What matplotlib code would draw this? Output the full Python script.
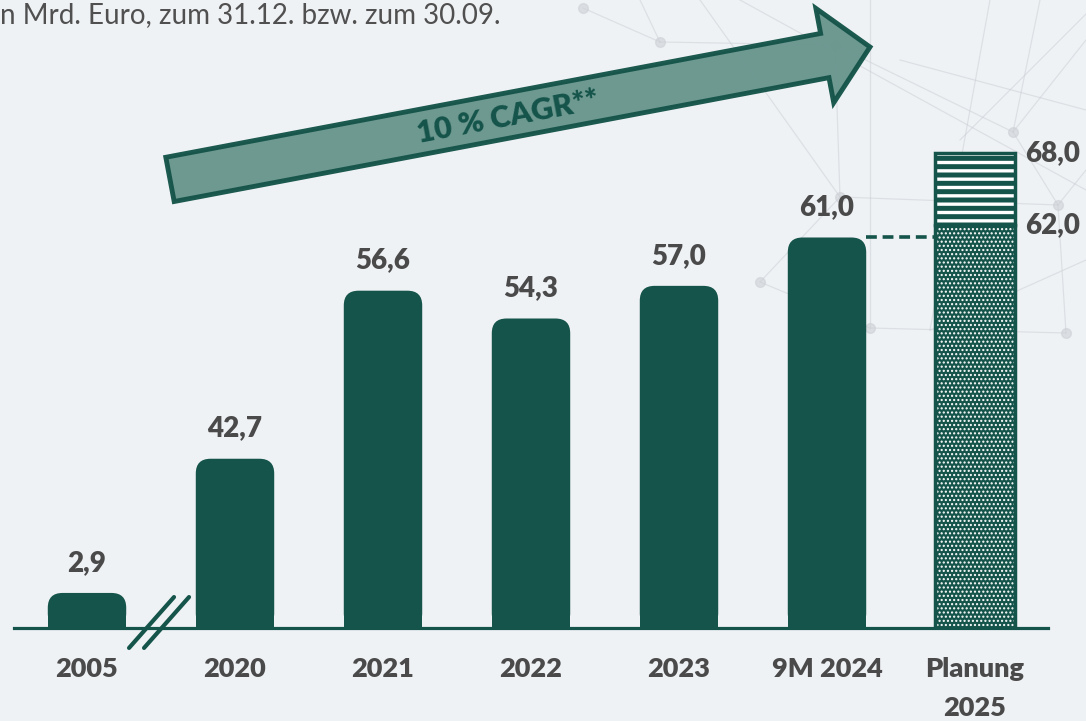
import matplotlib.pyplot as plt
from matplotlib.patches import FancyBboxPatch, FancyArrow, Rectangle

# Kreditvolumen in Mrd. Euro
categories = ['2005', '2020', '2021', '2022', '2023', '9M 2024', 'Planung\n2025']
values = [2.9, 42.7, 56.6, 54.3, 57.0, 61.0]
plan_low = 62.0
plan_high = 68.0
subtitle = 'n Mrd. Euro, zum 31.12. bzw. zum 30.09.'
cagr_text = '10 % CAGR**'

GREEN = '#15544A'
ARROW_FILL = '#6A968E'
GREY = '#4A4A4A'
BG = '#EFF2F5'
BREAK = 28.7  # bars after the axis break start at this value
WEIGHT = 'heavy'

W, H = 1086, 721
PX_X = 148.0   # pixels per category
PX_Y = 12.09   # pixels per Mrd. Euro
BASE_PX = 93.0  # baseline above the figure bottom

plt.rcParams['font.family'] = ['Lato', 'DejaVu Sans']


def fmt(v):
    return ('%.1f' % v).replace('.', ',')


def shown(i, v):
    # the 2005 bar sits before the axis break and is drawn from zero
    return v if i == 0 else v - BREAK


fig = plt.figure(figsize=(W / 100, H / 100), dpi=100, facecolor=BG)

# background layer in pixel coordinates (network pattern, arrow, subtitle)
bg = fig.add_axes([0, 0, 1, 1], zorder=0)
bg.set_xlim(0, W)
bg.set_ylim(H, 0)
bg.axis('off')

net = [((583, 8), (660, 42)), ((660, 42), (835, 45)), ((640, 0), (660, 42)),
       ((700, 0), (840, 197)), ((835, 45), (840, 197)), ((835, 45), (1013, 132)),
       ((870, 0), (870, 328)), ((990, 0), (930, 330)), ((1013, 132), (1058, 205)),
       ((1013, 132), (1086, 40)), ((840, 197), (1058, 205)), ((760, 282), (840, 197)),
       ((760, 282), (870, 328)), ((870, 328), (1066, 333)), ((1058, 205), (1066, 333)),
       ((1086, 170), (1058, 205)), ((900, 60), (1086, 110)), ((1040, 0), (1013, 132)),
       ((1100, 0), (960, 140)), ((1086, 260), (930, 330)), ((740, 0), (1086, 190))]
for p, q in net:
    bg.plot([p[0], q[0]], [p[1], q[1]], color='#CDD1D6', lw=0.9, alpha=0.55, zorder=1)
for n in [(583, 8), (660, 42), (835, 45), (840, 197), (1013, 132), (1058, 205),
          (760, 282), (870, 328), (1066, 333)]:
    bg.plot(*n, 'o', color='#CDD1D6', ms=7, alpha=0.6, zorder=1)

bg.text(0, 2, subtitle, fontsize=20, color='#505050', ha='left', va='top')

arrow = FancyArrow(170, 179.4, 700, -132.4, width=45, head_width=96, head_length=46,
                   length_includes_head=True, fc=ARROW_FILL, ec=GREEN, lw=3.5,
                   alpha=0.97, zorder=3)
bg.add_patch(arrow)
bg.text(508, 117, cagr_text, fontsize=22, fontweight=WEIGHT, color=GREEN,
        rotation=10.7, rotation_mode='anchor', ha='center', va='center', zorder=4)

# chart layer
ax = fig.add_axes([0, BASE_PX / H, 1, 1 - BASE_PX / H], zorder=1)
ax.patch.set_alpha(0)
x_left = -87 / PX_X
ax.set_xlim(x_left, x_left + W / PX_X)
ax.set_ylim(0, (H - BASE_PX) / PX_Y)
for s in ['top', 'left', 'right']:
    ax.spines[s].set_visible(False)
ax.spines['bottom'].set_color(GREEN)
ax.spines['bottom'].set_linewidth(2.3)
ax.spines['bottom'].set_bounds(x_left + 14 / PX_X, x_left + 1048 / PX_X)
ax.set_yticks([])
ax.set_xticks(range(len(categories)))
ax.set_xticklabels(categories, fontsize=19.5, fontweight=WEIGHT, color=GREY,
                   linespacing=1.75)
ax.tick_params(axis='x', length=0, pad=21)

bar_w = 0.53
r = 0.1
aspect = PX_X / PX_Y
heights = [shown(i, v) for i, v in enumerate(values)]
ax.bar(range(len(values)), [h - r * aspect for h in heights], width=bar_w,
       color=GREEN, zorder=2)
for i, h in enumerate(heights):
    rr = r if h > 2 * r * aspect else 0.08
    ax.add_patch(FancyBboxPatch((i - bar_w / 2, 0), bar_w, h,
                                boxstyle='round,pad=0,rounding_size=%g' % rr,
                                mutation_aspect=aspect, fc=GREEN, ec='none', zorder=2))
    ax.annotate(fmt(values[i]), (i, h), xytext=(0, 16), textcoords='offset points',
                ha='center', va='baseline', fontsize=20, fontweight=WEIGHT, color=GREY)

# planning bar
ip = len(values)
pw = 0.54
low = shown(ip, plan_low)
high = shown(ip, plan_high)
p1 = Rectangle((ip - pw / 2, 0), pw, low, fc=GREEN, ec='white', lw=0, hatch='....', zorder=2)
p2 = Rectangle((ip - pw / 2, low), pw, high - low, fc=GREEN, ec='white', lw=0, hatch='--', zorder=2)
for p, hl in ((p1, 1.0), (p2, 2.4)):
    if hasattr(p, 'set_hatch_linewidth'):
        p.set_hatch_linewidth(hl)
    ax.add_patch(p)
ax.add_patch(Rectangle((ip - pw / 2, 0), pw, high, fc='none', ec=GREEN, lw=2.5, zorder=3))
ax.plot([ip - pw / 2, ip + pw / 2], [low, low], color=GREEN, lw=2.5, zorder=3)
for v, h in [(plan_high, high), (plan_low, low)]:
    ax.annotate(fmt(v), (ip + pw / 2, h), xytext=(7, 0), textcoords='offset points',
                ha='left', va='center', fontsize=20, fontweight=WEIGHT, color=GREY)

# dashed link from 9M 2024 to the plan
ax.plot([ip - 1 + bar_w / 2, ip - pw / 2], [heights[-1], heights[-1]], color=GREEN,
        lw=2.6, ls=(0, (3, 1.6)), zorder=2)

# axis break marks between 2005 and 2020
for dx in (0, 15 / PX_X):
    ax.plot([0.284 + dx, 0.588 + dx], [-1.65, 2.56], color=GREEN, lw=3,
            solid_capstyle='round', clip_on=False, zorder=4)

plt.savefig('out.png', dpi=100, facecolor=BG)
